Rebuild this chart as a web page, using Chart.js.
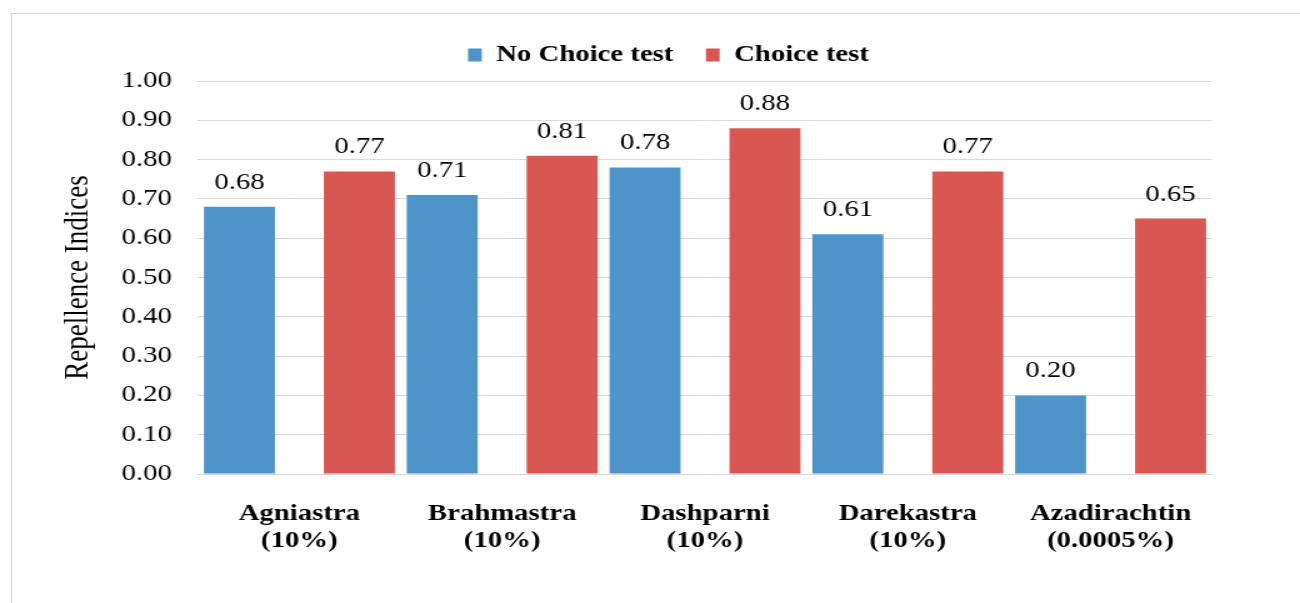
<!DOCTYPE html>
<html>
<head>
<meta charset="utf-8">
<script src="https://cdn.jsdelivr.net/npm/chart.js@4.4.1/dist/chart.umd.min.js"></script>
<style>
    body { margin: 0; background: #fff; overflow: hidden; }
    #frame { position: absolute; left: 11px; top: 13px; width: 1400px; height: 700px; border: 1px solid #d9d9d9; }
    /* the reference is stretched sideways, so the chart is drawn narrower and scaled out */
    #wrap { position: absolute; left: 0; top: 0; width: 1040px; height: 603px; transform: scaleX(1.25); transform-origin: 0 0; }
</style>
</head>
<body>
<div id="frame"></div>
<div id="wrap"><canvas id="chart"></canvas></div>
<script>
const categories = [
    ["Agniastra", "(10%)"],
    ["Brahmastra", "(10%)"],
    ["Dashparni", "(10%)"],
    ["Darekastra", "(10%)"],
    ["Azadirachtin", "(0.0005%)"],
];
const noChoice = [0.68, 0.71, 0.78, 0.61, 0.20];
const choice = [0.77, 0.81, 0.88, 0.77, 0.65];
const yTicks = [0, 0.1, 0.2, 0.3, 0.4, 0.5, 0.6, 0.7, 0.8, 0.9, 1.0];

const serif = '"Liberation Serif", "Times New Roman", serif';

// value labels above each bar
const valueLabels = {
    id: "valueLabels",
    afterDatasetsDraw(chart) {
        const ctx = chart.ctx;
        ctx.save();
        ctx.font = `23px ${serif}`;
        ctx.fillStyle = "#000";
        ctx.textAlign = "center";
        ctx.textBaseline = "alphabetic";
        chart.data.datasets.forEach((ds, i) => {
            chart.getDatasetMeta(i).data.forEach((bar, j) => {
                ctx.fillText(ds.data[j].toFixed(2), bar.x, bar.y - 18);
            });
        });
        ctx.restore();
    },
};

// legend sits a bit right of the chart centre in the reference
const legendNudge = {
    id: "legendNudge",
    afterLayout(chart) {
        const lg = chart.legend;
        lg.left += 50;
        lg.right += 50;
        lg.top -= 4.5;
        lg.bottom -= 4.5;
    },
};

new Chart(document.getElementById("chart"), {
    type: "bar",
    data: {
        labels: categories,
        datasets: [
            {
                label: "No Choice test",
                data: noChoice,
                backgroundColor: "rgb(79,148,201)",
                borderWidth: 0,
                categoryPercentage: 1.183,
                barPercentage: 0.592,
            },
            {
                label: "Choice test",
                data: choice,
                backgroundColor: "rgb(216,87,83)",
                borderWidth: 0,
                categoryPercentage: 1.183,
                barPercentage: 0.592,
            },
        ],
    },
    options: {
        responsive: true,
        maintainAspectRatio: false,
        animation: false,
        layout: { padding: { top: 22, right: 70.4, bottom: 21.8, left: 0 } },
        plugins: {
            legend: {
                position: "top",
                labels: {
                    color: "#000",
                    font: { family: serif, size: 23, weight: "bold" },
                    boxWidth: 11,
                    boxHeight: 13,
                    padding: 26,
                },
            },
            tooltip: { enabled: false },
        },
        scales: {
            x: {
                grid: { display: false, drawTicks: false },
                border: { display: false },
                ticks: {
                    color: "#000",
                    padding: 26,
                    font: { family: serif, size: 23, weight: "bold" },
                },
            },
            y: {
                min: 0,
                max: 1,
                afterBuildTicks: axis => { axis.ticks = yTicks.map(v => ({ value: v })); },
                afterFit: axis => { axis.width = 158.4; },
                grid: { color: "#d9d9d9", lineWidth: 1, drawTicks: false },
                border: { display: false },
                ticks: {
                    color: "#000",
                    padding: 21,
                    font: { family: serif, size: 23 },
                    callback: v => Number(v).toFixed(2),
                },
                title: {
                    display: true,
                    text: "Repellence Indices",
                    color: "#000",
                    font: { family: serif, size: 27 },
                    padding: { top: 47, bottom: 0 },
                },
            },
        },
    },
    plugins: [valueLabels, legendNudge],
});
</script>
</body>
</html>
